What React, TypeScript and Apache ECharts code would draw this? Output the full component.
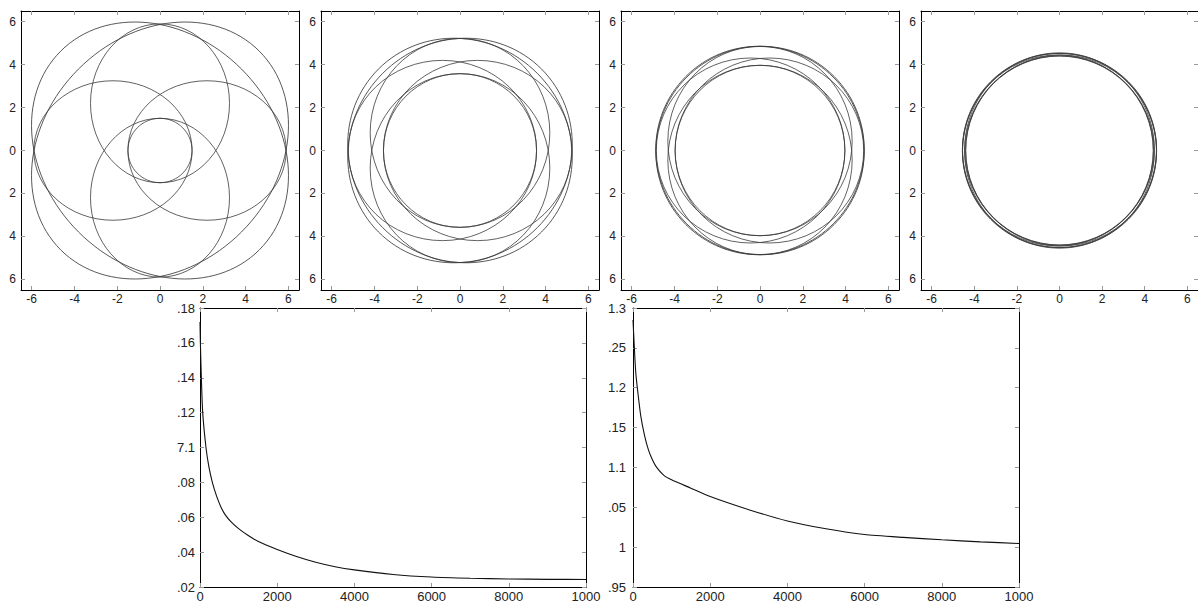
import React, { useEffect, useRef } from "react";
import * as echarts from "echarts";

// ---- tick labels ----
const TOP_TICKS = [-6, -4, -2, 0, 2, 4, 6];
const TOP_X_LABELS = ["-6", "-4", "-2", "0", "2", "4", "6"];
const TOP_Y_LABELS = ["6", "4", "2", "0", "2", "4", "6"];

const ITER_TICKS = [0, 2000, 4000, 6000, 8000, 10000];
const ITER_LABELS = ["0", "2000", "4000", "6000", "8000", "1000"];

const LEFT_Y_TICKS = [7.02, 7.04, 7.06, 7.08, 7.1, 7.12, 7.14, 7.16, 7.18];
const LEFT_Y_LABELS = [".02", ".04", ".06", ".08", "7.1", ".12", ".14", ".16", ".18"];

const RIGHT_Y_TICKS = [0.95, 1.0, 1.05, 1.1, 1.15, 1.2, 1.25, 1.3];
const RIGHT_Y_LABELS = [".95", "1", ".05", "1.1", ".15", "1.2", ".25", "1.3"];

// ---- closed curves per panel: [centerX, centerY, semiAxisX, semiAxisY, rotationDeg] ----
const PANEL1 = [
  [0, 0, 1.5, 1.5, 0],
  [0, 2.2, 3.25, 3.7, 0],
  [0, -2.2, 3.25, 3.7, 0],
  [-2.2, 0, 3.7, 3.25, 0],
  [2.2, 0, 3.7, 3.25, 0],
  [0, 0, 6.57, 5.37, 45],
  [0, 0, 6.57, 5.37, -45],
];
const PANEL2 = [
  [0, 0, 3.58, 3.58, 0],
  [0, 0.82, 4.2, 4.4, 0],
  [0, -0.82, 4.2, 4.4, 0],
  [-0.82, 0, 4.4, 4.2, 0],
  [0.82, 0, 4.4, 4.2, 0],
  [0, 0, 5.39, 5.09, 45],
  [0, 0, 5.39, 5.09, -45],
];
const PANEL3 = [
  [0, 0, 3.97, 3.97, 0],
  [0, 0.44, 4.31, 4.41, 0],
  [0, -0.44, 4.31, 4.41, 0],
  [-0.44, 0, 4.41, 4.31, 0],
  [0.44, 0, 4.41, 4.31, 0],
  [0, 0, 4.9, 4.83, 45],
  [0, 0, 4.9, 4.83, -45],
];
const PANEL4 = [
  [0, 0, 4.4, 4.4, 0],
  [0, 0.07, 4.45, 4.48, 0],
  [0, -0.07, 4.45, 4.48, 0],
  [-0.07, 0, 4.48, 4.45, 0],
  [0.07, 0, 4.48, 4.45, 0],
  [0, 0, 4.57, 4.51, 45],
  [0, 0, 4.57, 4.51, -45],
];
const PANELS = [PANEL1, PANEL2, PANEL3, PANEL4];

// ---- loss curves ----
const LEFT_ITERS = [0, 10, 35, 70, 155, 230, 320, 432, 550, 650, 800, 1000, 1250, 1500, 2000, 2500, 3000, 3500, 4000, 5000, 6000, 7000, 8000, 9000, 10000];
const LEFT_VALUES = [7.172, 7.16, 7.14, 7.12, 7.1, 7.089, 7.08, 7.072, 7.0655, 7.0615, 7.0575, 7.0535, 7.0495, 7.0462, 7.0415, 7.0375, 7.0342, 7.0316, 7.0298, 7.0272, 7.0257, 7.025, 7.0246, 7.0244, 7.0243];

const RIGHT_ITERS = [0, 35, 70, 112, 200, 300, 400, 500, 613, 800, 1000, 1500, 2000, 3000, 4000, 5000, 6000, 7000, 8000, 9000, 10000];
const RIGHT_VALUES = [1.285, 1.25, 1.22, 1.2, 1.165, 1.14, 1.122, 1.11, 1.1, 1.09, 1.0845, 1.074, 1.0635, 1.047, 1.0328, 1.023, 1.0158, 1.0122, 1.0092, 1.0066, 1.0046];

const FONT = "'Liberation Sans', Arial, Helvetica, sans-serif";
const TEXT_COLOR = "#222";
const TICK_COLOR = "#999";

function labelFor(ticks: number[], labels: string[]) {
  return (v: number) => {
    for (let i = 0; i < ticks.length; i++) {
      if (Math.abs(v - ticks[i]) < 1e-6) return labels[i];
    }
    return "";
  };
}

export default function App() {
  const ref = useRef<HTMLDivElement>(null);

  useEffect(() => {
    if (!ref.current) return;
    const chart = echarts.init(ref.current, null, { renderer: "svg" });

    const grids: any[] = [
      { left: 21, top: 11, width: 278, height: 279 },
      { left: 321, top: 11, width: 278, height: 279 },
      { left: 621, top: 11, width: 278, height: 279 },
      { left: 921, top: 11, width: 277, height: 279 },
      { left: 200, top: 308, width: 386, height: 282 },
      { left: 633, top: 308, width: 386, height: 282 },
    ];

    const xAxes: any[] = [];
    const yAxes: any[] = [];
    const series: any[] = [];

    const axisLine = { show: true, onZero: false, lineStyle: { color: "#000", width: 1 } };

    const makePair = (
      g: number,
      isX: boolean,
      min: number,
      max: number,
      ticks: number[],
      labels: string[],
      fontSize: number,
      margin: number
    ) => {
      const tick = {
        show: true,
        inside: true,
        length: 4,
        customValues: ticks,
        lineStyle: { color: TICK_COLOR, width: 1 },
      };
      const main = {
        type: "value",
        gridIndex: g,
        position: isX ? "bottom" : "left",
        min,
        max,
        axisLine,
        splitLine: { show: false },
        axisTick: tick,
        axisLabel: {
          show: true,
          customValues: ticks,
          formatter: labelFor(ticks, labels),
          fontFamily: FONT,
          fontSize,
          color: TEXT_COLOR,
          margin,
        },
      };
      const second = {
        type: "value",
        gridIndex: g,
        position: isX ? "top" : "right",
        min,
        max,
        axisLine,
        splitLine: { show: false },
        axisTick: tick,
        axisLabel: { show: false },
      };
      return [main, second];
    };

    // top panels
    for (let g = 0; g < 4; g++) {
      xAxes.push(...makePair(g, true, -6.5, 6.5, TOP_TICKS, TOP_X_LABELS, 12, 3));
      yAxes.push(...makePair(g, false, -6.5, 6.5, TOP_TICKS, TOP_Y_LABELS, 12, 5));
      series.push({
        type: "custom",
        xAxisIndex: 2 * g,
        yAxisIndex: 2 * g,
        data: PANELS[g],
        silent: true,
        clip: true,
        renderItem: (params: any, api: any) => {
          const c = api.coord([api.value(0), api.value(1)]);
          const s = api.size([api.value(2), api.value(3)]);
          const rot = (api.value(4) * Math.PI) / 180;
          return {
            type: "group",
            x: c[0],
            y: c[1],
            rotation: rot,
            children: [
              {
                type: "ellipse",
                shape: { cx: 0, cy: 0, rx: s[0], ry: s[1] },
                style: { fill: "none", stroke: "#3a3a3a", lineWidth: 0.8 },
              },
            ],
          };
        },
      });
    }

    // bottom panels
    xAxes.push(...makePair(4, true, 0, 10000, ITER_TICKS, ITER_LABELS, 13, 3));
    yAxes.push(...makePair(4, false, 7.02, 7.18, LEFT_Y_TICKS, LEFT_Y_LABELS, 13, 5));
    xAxes.push(...makePair(5, true, 0, 10000, ITER_TICKS, ITER_LABELS, 13, 3));
    yAxes.push(...makePair(5, false, 0.95, 1.3, RIGHT_Y_TICKS, RIGHT_Y_LABELS, 13, 7));

    series.push({
      type: "line",
      xAxisIndex: 8,
      yAxisIndex: 8,
      showSymbol: false,
      smooth: 0.2,
      data: LEFT_ITERS.map((x, i) => [x, LEFT_VALUES[i]]),
      lineStyle: { color: "#111", width: 1.1 },
    });
    series.push({
      type: "line",
      xAxisIndex: 10,
      yAxisIndex: 10,
      showSymbol: false,
      smooth: 0.2,
      data: RIGHT_ITERS.map((x, i) => [x, RIGHT_VALUES[i]]),
      lineStyle: { color: "#111", width: 1.1 },
    });

    chart.setOption({
      animation: false,
      backgroundColor: "#fff",
      textStyle: { fontFamily: FONT },
      grid: grids,
      xAxis: xAxes,
      yAxis: yAxes,
      series,
    });

    return () => chart.dispose();
  }, []);

  return (
    <div
      ref={ref}
      style={{ position: "fixed", left: 0, top: 0, width: 1198, height: 603, background: "#fff" }}
    />
  );
}
